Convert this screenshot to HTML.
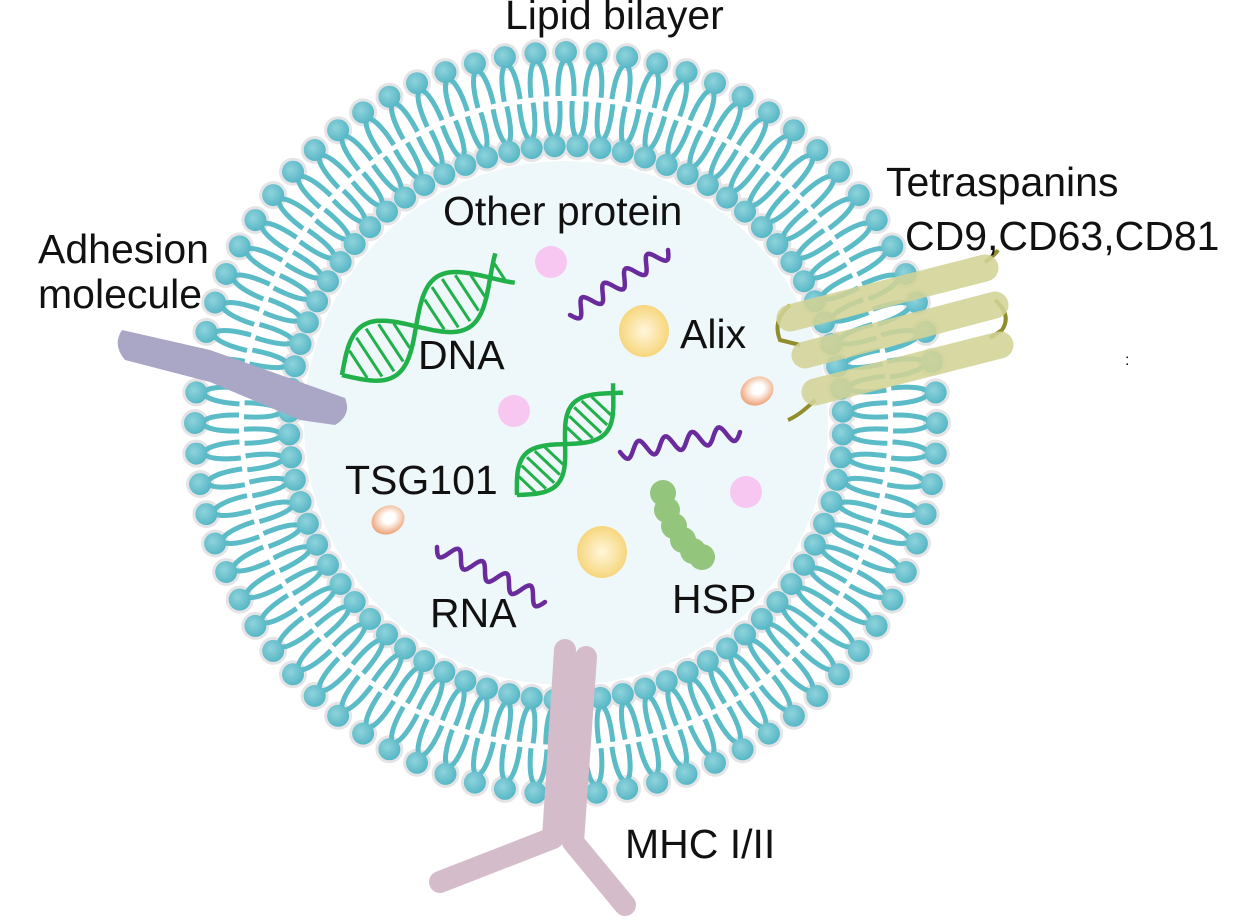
<!DOCTYPE html>
<html><head><meta charset="utf-8"><style>
html,body{margin:0;padding:0;background:#fff;width:1260px;height:920px;overflow:hidden}
svg{display:block}
text{font-family:"Liberation Sans",sans-serif;font-size:41px;fill:#111}
</style></head><body>
<svg id="s" width="1260" height="920" viewBox="0 0 1260 920" xmlns="http://www.w3.org/2000/svg">
<defs>
<radialGradient id="hd" cx="0.4" cy="0.4" r="0.7"><stop offset="0" stop-color="#8fd3dc"/><stop offset="1" stop-color="#4fb3c2"/></radialGradient>
<radialGradient id="yb" cx="0.5" cy="0.5" r="0.6"><stop offset="0" stop-color="#fff6dc"/><stop offset="1" stop-color="#f5d06a"/></radialGradient>
<radialGradient id="ob" cx="0.55" cy="0.45" r="0.6"><stop offset="0.3" stop-color="#fff"/><stop offset="1" stop-color="#eb9a6a"/></radialGradient>
</defs>
<circle cx="566" cy="423" r="262" fill="#eef8fb"/>
<g id="mem"></g>
<g id="stuff"></g>
<text x="505" y="29">Lipid bilayer</text>
<text x="443" y="225">Other protein</text>
<text x="38" y="263">Adhesion</text>
<text x="38" y="308">molecule</text>
<text x="886" y="196">Tetraspanins</text>
<text x="905" y="250">CD9,CD63,CD81</text>
<text x="418" y="369">DNA</text>
<text x="680" y="348">Alix</text>
<text x="345" y="494">TSG101</text>
<text x="430" y="627">RNA</text>
<text x="672" y="613">HSP</text>
<text x="625" y="858">MHC I/II</text>
<text x="1125" y="365" style="font-size:16px">:</text>
</svg>
<script>
const NS="http://www.w3.org/2000/svg";
const cx=566,cy=423,Ro=371,Ri=277,N=76;
const mem=document.getElementById('mem'),st=document.getElementById('stuff');
function el(p,tag,a){const e=document.createElementNS(NS,tag);for(const k in a)e.setAttribute(k,a[k]);p.appendChild(e);return e;}
function P(a,r,t){const ux=Math.cos(a),uy=Math.sin(a);return [(cx+ux*r-uy*t).toFixed(1),(cy+uy*r+ux*t).toFixed(1)];}
let tails="",heads=[];
for(let i=0;i<N;i++){
 const a=2*Math.PI*i/N;
 let A=P(a,327,-8),B=P(a,Ro+4,-9),C=P(a,Ro+4,9),D=P(a,327,8);
 tails+=`M${A}C${B} ${C} ${D}`;
 heads.push(P(a,Ro,0));
 const a2=a+Math.PI/N;
 A=P(a2,322,-7);B=P(a2,Ri-4,-8);C=P(a2,Ri-4,8);D=P(a2,322,7);
 tails+=`M${A}C${B} ${C} ${D}`;
 heads.push(P(a2,Ri,0));
}
heads.forEach(h=>el(mem,'circle',{cx:h[0],cy:h[1],r:14,fill:'#e4e4e6'}));
el(mem,'path',{d:tails,fill:'none',stroke:'#5bbcc8','stroke-width':5});
heads.forEach(h=>el(mem,'circle',{cx:h[0],cy:h[1],r:11,fill:'url(#hd)'}));
el(st,'path',{d:'M122 330 L210 350 L300 382 L345 398 Q352 415 335 425 L300 420 L210 382 L125 360 Q112 345 122 330Z',fill:'#a9a6c6'});
const tet=[[790,318,985,268],[805,355,995,305],[815,392,1000,345]];
el(st,'path',{d:'M985 262 Q995 255 998 250 M790 305 Q772 320 780 340 L800 345 M995 300 Q1012 315 1002 330 L990 338 M815 400 Q800 415 788 420',fill:'none',stroke:'#8f8d2c','stroke-width':4});
tet.forEach(t=>el(st,'line',{x1:t[0],y1:t[1],x2:t[2],y2:t[3],stroke:'#d3d396','stroke-width':27,'stroke-linecap':'round',opacity:0.88}));
function dna(x1,y1,x2,y2,amp,turns){
 const L=Math.hypot(x2-x1,y2-y1),ux=(x2-x1)/L,uy=(y2-y1)/L,nx=-uy,ny=ux;
 let s1="",s2="",r="";const M=60;
 for(let k=0;k<=M;k++){const t=k/M,ph=t*turns*2*Math.PI,o=amp*Math.sin(ph);
  const bx=x1+ux*L*t,by=y1+uy*L*t;
  s1+=(k?"L":"M")+(bx+nx*o).toFixed(1)+" "+(by+ny*o).toFixed(1);
  s2+=(k?"L":"M")+(bx-nx*o).toFixed(1)+" "+(by-ny*o).toFixed(1);
  if(k%4==2&&Math.abs(Math.sin(ph))>0.35){r+=`M${(bx+nx*o*0.85).toFixed(1)} ${(by+ny*o*0.85).toFixed(1)}L${(bx-nx*o*0.85).toFixed(1)} ${(by-ny*o*0.85).toFixed(1)}`;}
 }
 el(st,'path',{d:s1+s2,fill:'none',stroke:'#22b04a','stroke-width':4.5});
 el(st,'path',{d:r,fill:'none',stroke:'#22b04a','stroke-width':3});
}
dna(342,375,505,268,30,1.1);
dna(517,495,618,388,22,1.05);
function rna(x1,y1,x2,y2,n,amp){
 const L=Math.hypot(x2-x1,y2-y1),ux=(x2-x1)/L,uy=(y2-y1)/L,nx=-uy,ny=ux;let d="";
 for(let k=0;k<=80;k++){const t=k/80,o=amp*Math.sin(t*n*2*Math.PI);d+=(k?"L":"M")+(x1+ux*L*t+nx*o).toFixed(1)+" "+(y1+uy*L*t+ny*o).toFixed(1);}
 el(st,'path',{d:d,fill:'none',stroke:'#6a2c9c','stroke-width':4.5,'stroke-linecap':'round'});
}
rna(570,315,668,250,4.5,8);
rna(620,452,740,432,4.5,8);
rna(437,547,545,602,4.5,8);
[[551,262],[514,411],[746,492]].forEach(p=>el(st,'circle',{cx:p[0],cy:p[1],r:16,fill:'#f7c7f1'}));
[[644,331],[602,552]].forEach(p=>el(st,'ellipse',{cx:p[0],cy:p[1],rx:25,ry:26,fill:'url(#yb)'}));
el(st,'ellipse',{cx:757,cy:391,rx:17,ry:14,fill:'url(#ob)',transform:'rotate(-25 757 391)'});
el(st,'ellipse',{cx:388,cy:520,rx:17,ry:14,fill:'url(#ob)',transform:'rotate(-25 388 520)'});
[[663,493],[667,510],[674,526],[683,540],[693,551],[702,557]].forEach(p=>el(st,'circle',{cx:p[0],cy:p[1],r:13,fill:'#93c57c'}));
el(st,'path',{d:'M565 650 L553 838 L440 882 M586 657 L573 842 L625 905',fill:'none',stroke:'#d5bccb','stroke-width':22,'stroke-linecap':'round','stroke-linejoin':'round'});
</script>
</body></html>
